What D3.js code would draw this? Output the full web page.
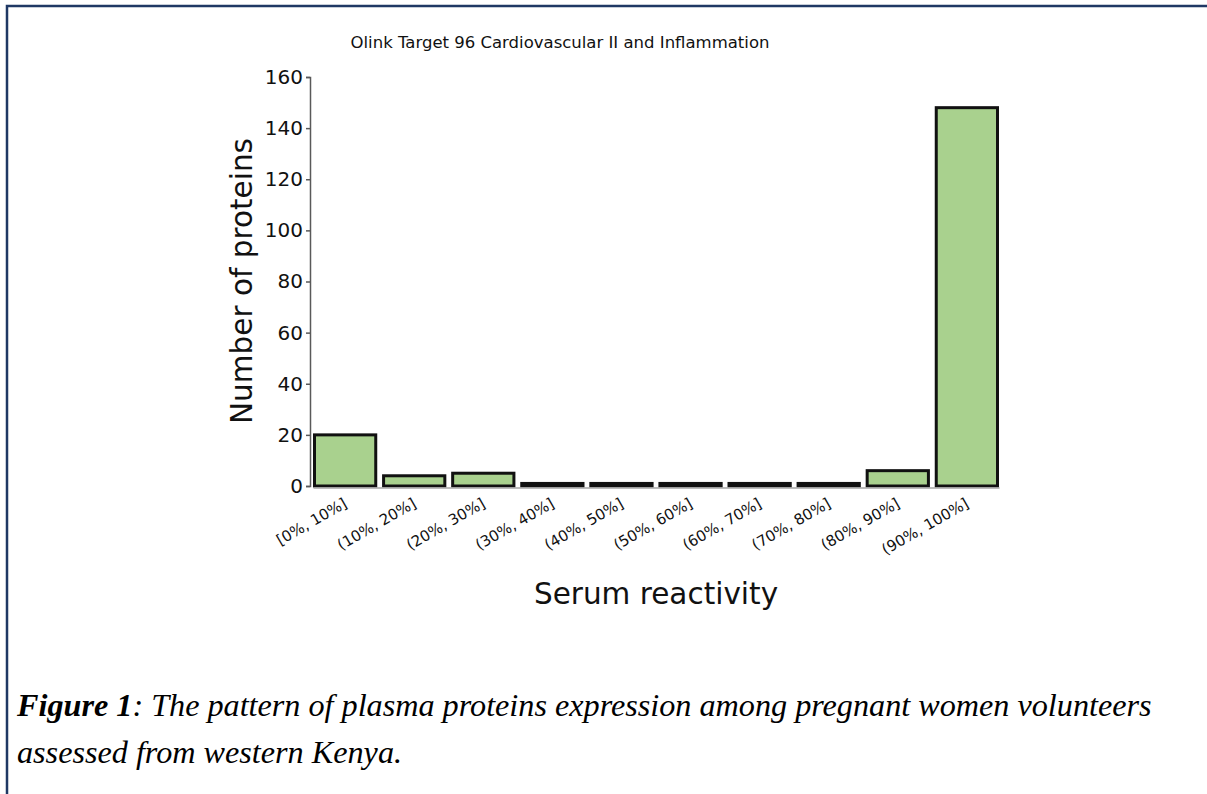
<!DOCTYPE html>
<html>
<head>
    <meta charset="utf-8">
    <title>Serum reactivity</title>
    <script src="https://d3js.org/d3.v7.min.js"></script>
    <style>
        body { margin: 0; padding: 0; background: #fff; overflow: hidden; }
        svg { display: block; }
    </style>
</head>
<body>
    <script>
        var categories = ["[0%, 10%]", "(10%, 20%]", "(20%, 30%]", "(30%, 40%]", "(40%, 50%]",
            "(50%, 60%]", "(60%, 70%]", "(70%, 80%]", "(80%, 90%]", "(90%, 100%]"];
        var counts = [20, 4, 5, 1, 1, 1, 1, 1, 6, 148];
        var yTicks = [0, 20, 40, 60, 80, 100, 120, 140, 160];
        var chartTitle = "Olink Target 96 Cardiovascular II and Inflammation";
        var xTitle = "Serum reactivity";
        var yTitle = "Number of proteins";

        var width = 1207, height = 794;
        var font = "'DejaVu Sans', sans-serif";

        var svg = d3.select("body").append("svg")
            .attr("width", width)
            .attr("height", height);

        // page frame (left + top rule)
        svg.append("path")
            .attr("d", "M7,794V6H1207")
            .attr("fill", "none")
            .attr("stroke", "#1f3864")
            .attr("stroke-width", 2.5);

        var x = d3.scaleBand().domain(categories).range([313, 999]).paddingInner(0.07);
        var y = d3.scaleLinear().domain([0, 160]).range([486, 77]);

        // y axis
        var yAxis = svg.append("g")
            .attr("transform", "translate(310,0)")
            .call(d3.axisLeft(y).tickValues(yTicks).tickSize(4).tickPadding(3));
        yAxis.select(".domain").attr("stroke", "#595959").attr("stroke-width", 1.5);
        yAxis.selectAll(".tick line").attr("stroke", "#595959").attr("stroke-width", 1.5);
        yAxis.selectAll(".tick text")
            .attr("font-family", font)
            .attr("font-size", 20)
            .attr("fill", "#111");

        // bars
        svg.append("g").selectAll("rect")
            .data(counts)
            .join("rect")
            .attr("x", (d, i) => x(categories[i]) + 1.5)
            .attr("width", x.bandwidth() - 3)
            .attr("y", d => y(d))
            .attr("height", d => y(0) - y(d))
            .attr("fill", "#a9d18e")
            .attr("stroke", "#111")
            .attr("stroke-width", 3);

        // x axis baseline
        var xAxis = svg.append("g")
            .attr("transform", "translate(0,487.5)")
            .call(d3.axisBottom(x).tickSize(0).tickPadding(0));
        xAxis.select(".domain").attr("stroke", "#a6a6a6").attr("stroke-width", 1.5);
        xAxis.selectAll(".tick text")
            .attr("font-family", font)
            .attr("font-size", 15)
            .attr("fill", "#111")
            .attr("text-anchor", "end")
            .attr("dy", null)
            .attr("transform", "translate(3,19) rotate(-30)");

        // titles
        svg.append("text")
            .attr("x", 560).attr("y", 48)
            .attr("text-anchor", "middle")
            .attr("font-family", font)
            .attr("font-size", 16.5)
            .attr("fill", "#111")
            .text(chartTitle);

        svg.append("text")
            .attr("x", 656).attr("y", 604)
            .attr("text-anchor", "middle")
            .attr("font-family", font)
            .attr("font-size", 29.5)
            .attr("fill", "#111")
            .text(xTitle);

        svg.append("text")
            .attr("transform", "translate(252,281) rotate(-90)")
            .attr("text-anchor", "middle")
            .attr("font-family", font)
            .attr("font-size", 29.5)
            .attr("fill", "#111")
            .text(yTitle);

        // caption
        var caption = svg.append("g")
            .attr("font-family", "'Liberation Serif', 'Times New Roman', serif")
            .attr("font-size", 32.2)
            .attr("font-style", "italic")
            .attr("fill", "#000");
        var line1 = caption.append("text").attr("x", 17).attr("y", 716);
        line1.append("tspan").attr("font-weight", "bold").text("Figure 1");
        line1.append("tspan").text(": The pattern of plasma proteins expression among pregnant women volunteers");
        caption.append("text").attr("x", 17).attr("y", 763).text("assessed from western Kenya.");
    </script>
</body>
</html>
